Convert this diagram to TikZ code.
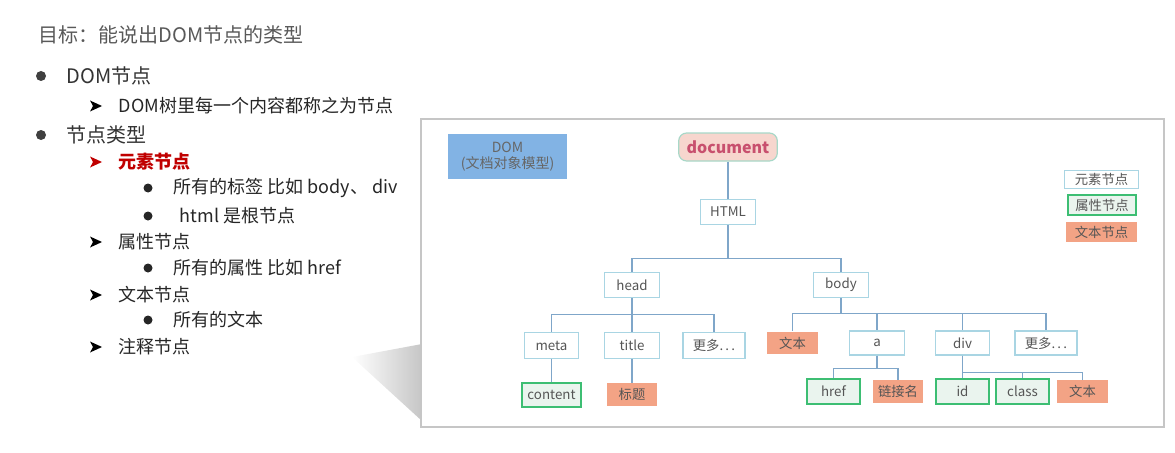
\documentclass[tikz,border=0pt]{standalone}
\usepackage{fontspec}
\setmainfont{Noto Sans CJK SC}
\usetikzlibrary{calc}
\definecolor{linkblue}{HTML}{7FA6C9}
\definecolor{elemline}{HTML}{A9D5E3}
\definecolor{attrline}{HTML}{3DBE73}
\definecolor{attrfill}{HTML}{EAF4EE}
\definecolor{textfill}{HTML}{F3A385}
\definecolor{domfill}{HTML}{82B3E4}
\definecolor{docfill}{HTML}{F7D6CE}
\definecolor{docline}{HTML}{A8D8C8}
\definecolor{doctext}{HTML}{C8506E}
\definecolor{labgray}{HTML}{555555}
\definecolor{listred}{HTML}{C00000}
\newcommand{\listarrow}[2]{\fill[#2] ($(#1)+(-6,-5.5)$) -- ++(12,5.5) -- ++(-12,5.5) -- ++(3,-5.5) -- cycle;}
\begin{document}
\begin{tikzpicture}[x=0.75pt,y=-0.75pt,
    elem/.style={draw=elemline,line width=0.9pt,fill=white,inner sep=0pt,minimum width=41pt,minimum height=19pt,text=labgray,font=\fontsize{10}{12}\selectfont},
    attr/.style={draw=attrline,line width=1.5pt,fill=attrfill,inner sep=0pt,minimum width=40pt,minimum height=18.5pt,text=labgray,font=\fontsize{10}{12}\selectfont},
    txt/.style={fill=textfill,inner sep=0pt,minimum width=38pt,minimum height=17pt,text=labgray,font=\fontsize{10}{12}\selectfont},
    link/.style={draw=linkblue,line width=1.1pt},
    big/.style={anchor=west,text=black!80,font=\fontsize{15}{18}\selectfont},
    small/.style={anchor=west,text=black!85,font=\fontsize{13.5}{16}\selectfont}]
    \useasboundingbox (0,0) rectangle (1175,453);
    %titolo
    \node[anchor=west,text=black!65,font=\fontsize{15}{18}\selectfont] (goal) at (34,35) {目标：能说出DOM节点的类型};
    %elenco
    \fill[black!75] (41,76) circle (5);
    \node[big] (l1) at (62,76) {DOM节点};
    \listarrow{96,106}{black}
    \node[small] (l11) at (114,106) {DOM树里每一个内容都称之为节点};
    \fill[black!75] (41,135) circle (5);
    \node[big] (l2) at (62,135) {节点类型};
    \listarrow{96,162}{listred}
    \node[small,text=listred,font=\fontsize{13.5}{16}\selectfont\bfseries] (l21) at (114,162) {元素节点};
    \fill[black!85] (148,188) circle (4.5);
    \node[small] (l211) at (169,188) {所有的标签 比如 body、 div};
    \fill[black!85] (148,216) circle (4.5);
    \node[small] (l212) at (175,216) {html 是根节点};
    \listarrow{96,242}{black}
    \node[small] (l22) at (114,242) {属性节点};
    \fill[black!85] (148,268) circle (4.5);
    \node[small] (l221) at (169,268) {所有的属性 比如 href};
    \listarrow{96,295}{black}
    \node[small] (l23) at (114,295) {文本节点};
    \fill[black!85] (148,320) circle (4.5);
    \node[small] (l231) at (169,320) {所有的文本};
    \listarrow{96,347}{black}
    \node[small] (l24) at (114,347) {注释节点};
    %ombra e riquadro
    \shade[left color=white,right color=gray!45] (352,357) -- (422,344) -- (422,421) -- cycle;
    \draw[gray!45,fill=white,line width=0.8pt] (421,119) rectangle (1164,427);
    %box DOM e document
    \node[fill=domfill,inner sep=0pt,minimum width=89pt,minimum height=34pt,align=center,text=black!60,font=\fontsize{10.5}{12.5}\selectfont] (dom) at (507.5,156.5) {DOM\\(文档对象模型)};
    \node[draw=docline,line width=0.9pt,fill=docfill,rounded corners=6pt,inner sep=0pt,minimum width=74pt,minimum height=21pt,text=doctext,font=\fontsize{12}{14}\selectfont\bfseries] (document) at (728,147) {document};
    %albero
    \node[elem] (html) at (728,212) {HTML};
    \node[elem] (head) at (632,285) {head};
    \node[elem] (body) at (841,285) {body};
    \node[elem] (meta) at (551.5,345.5) {meta};
    \node[elem] (title) at (632,345.5) {title};
    \node[elem,minimum width=46.5pt] (more1) at (714,345.5) {更多.\,.\,.};
    \node[txt] (text1) at (792.5,343) {文本};
    \node[elem,minimum height=18pt] (a) at (877,343) {a};
    \node[elem,minimum height=18pt] (div) at (962.5,343) {div};
    \node[elem,minimum width=46.5pt,minimum height=18pt] (more2) at (1046,343) {更多.\,.\,.};
    \node[attr,minimum width=44pt] (content) at (551.5,395) {content};
    \node[txt,minimum height=17.5pt] (headline) at (632,394.5) {标题};
    \node[attr] (href) at (833.5,391.5) {href};
    \node[txt] (linkname) at (898,391.5) {链接名};
    \node[attr] (id) at (962.5,391.5) {id};
    \node[attr] (class) at (1022.5,391.5) {class};
    \node[txt] (text2) at (1082.5,391.5) {文本};
    %collegamenti
    \draw[link] (document.south) -- (html.north);
    \draw[link] (html.south) -- ++(0,33) -| (head.north);
    \draw[link] (html.south) -- ++(0,33) -| (body.north);
    \draw[link] (head.south) -- ++(0,16) -| (meta.north);
    \draw[link] (head.south) -- (title.north);
    \draw[link] (head.south) -- ++(0,16) -| (more1.north);
    \draw[link] (body.south) -- ++(0,15) -| (text1.north);
    \draw[link] (body.south) -- ++(0,15) -| (a.north);
    \draw[link] (body.south) -- ++(0,15) -| (div.north);
    \draw[link] (body.south) -- ++(0,15) -| (more2.north);
    \draw[link] (meta.south) -- (content.north);
    \draw[link] (title.south) -- (headline.north);
    \draw[link] (a.south) -- ++(0,13) -| (href.north);
    \draw[link] (a.south) -- ++(0,13) -| (linkname.north);
    \draw[link] (div.south) -- (id.north);
    \draw[link] (div.south) -- ++(0,17) -| (class.north);
    \draw[link] (div.south) -- ++(0,17) -| (text2.north);
    %legenda
    \node[elem,minimum width=56pt,minimum height=14pt] (keyelem) at (1101.5,179.5) {元素节点};
    \node[attr,minimum width=51pt,minimum height=15.5pt] (keyattr) at (1102,205) {属性节点};
    \node[txt,minimum width=53pt,minimum height=15pt] (keytext) at (1101.5,232) {文本节点};
\end{tikzpicture}
\end{document}
